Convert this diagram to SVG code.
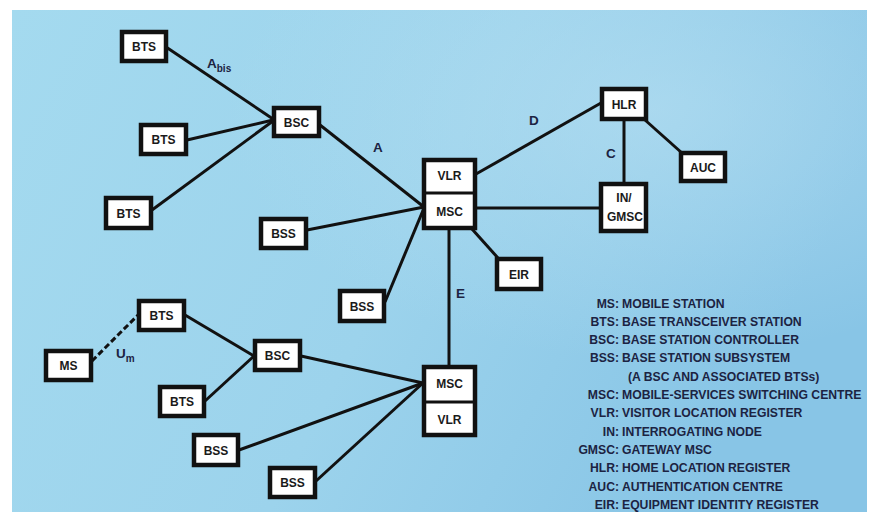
<svg xmlns="http://www.w3.org/2000/svg" width="871" height="512" viewBox="0 0 871 512">
<defs>
<linearGradient id="bg" x1="0" y1="0" x2="1" y2="0.3">
<stop offset="0" stop-color="#a4daef"/>
<stop offset="0.55" stop-color="#9cd3ec"/>
<stop offset="1" stop-color="#88c5e6"/>
</linearGradient>
<radialGradient id="haze" cx="0.75" cy="0.2" r="0.5">
<stop offset="0" stop-color="#b8e0f2" stop-opacity="0.6"/>
<stop offset="1" stop-color="#b8e0f2" stop-opacity="0"/>
</radialGradient>
<style>
.box{fill:#ffffff;stroke:#111111;stroke-width:4.5}
.div{stroke:#111111;stroke-width:3}
.nt{font-family:"Liberation Sans",Arial,sans-serif;font-weight:bold;font-size:12px;fill:#1a1a1a;text-anchor:middle}
.ln{stroke:#111111;stroke-width:3;fill:none}
.dash{stroke-dasharray:6 3}
.lb{font-family:"Liberation Sans",Arial,sans-serif;font-weight:bold;font-size:13.5px;fill:#1c2342}
.sub{font-size:10px}
.lg{font-family:"Liberation Sans",Arial,sans-serif;font-weight:bold;font-size:12.2px;fill:#1c2342}
.pf{text-anchor:end}
</style>
</defs>
<rect x="0" y="0" width="871" height="512" fill="#ffffff"/>
<rect x="12" y="10" width="855" height="502" fill="url(#bg)"/>
<rect x="12" y="10" width="855" height="502" fill="url(#haze)"/>

<g id="connectors">
<line class="ln" x1="166" y1="47" x2="273" y2="119"/>
<line class="ln" x1="187" y1="140" x2="273" y2="120"/>
<line class="ln" x1="152" y1="210" x2="273" y2="121"/>
<line class="ln" x1="320" y1="125" x2="424" y2="207"/>
<line class="ln" x1="307" y1="230" x2="424" y2="207"/>
<line class="ln" x1="385" y1="302" x2="424" y2="208"/>
<line class="ln" x1="476" y1="174" x2="601" y2="103"/>
<line class="ln" x1="476" y1="208" x2="600" y2="208"/>
<line class="ln" x1="624" y1="120" x2="624" y2="183"/>
<line class="ln" x1="645" y1="120" x2="682" y2="153"/>
<line class="ln" x1="449" y1="229" x2="449" y2="366"/>
<line class="ln" x1="472" y1="229" x2="498" y2="258"/>
<line class="ln dash" x1="92" y1="361" x2="138" y2="315"/>
<line class="ln" x1="185" y1="315" x2="254" y2="356"/>
<line class="ln" x1="205" y1="401" x2="254" y2="356"/>
<line class="ln" x1="301" y1="356" x2="423" y2="383"/>
<line class="ln" x1="239" y1="450" x2="423" y2="383"/>
<line class="ln" x1="316" y1="481" x2="423" y2="383"/>
</g>

<g id="labels">
<text class="lb" x="207" y="68">A<tspan class="sub" dy="4">bis</tspan></text>
<text class="lb" x="373" y="152">A</text>
<text class="lb" x="529" y="125">D</text>
<text class="lb" x="606" y="158">C</text>
<text class="lb" x="456" y="298">E</text>
<text class="lb" x="116" y="358">U<tspan class="sub" dy="4">m</tspan></text>
</g>

<g id="bts1"><rect class="box" x="122" y="32" width="44" height="29"/><text class="nt" x="144" y="51">BTS</text></g>
<g id="bts2"><rect class="box" x="141" y="125" width="45" height="29"/><text class="nt" x="163.5" y="144">BTS</text></g>
<g id="bts3"><rect class="box" x="106" y="198" width="45" height="30"/><text class="nt" x="128.5" y="217.5">BTS</text></g>
<g id="bsc1"><rect class="box" x="274" y="108" width="45" height="28"/><text class="nt" x="296.5" y="126.5">BSC</text></g>
<g id="bss1"><rect class="box" x="261" y="219" width="45" height="29"/><text class="nt" x="283.5" y="238">BSS</text></g>
<g id="vlr-msc-upper">
<rect class="box" x="424" y="160" width="51" height="68"/>
<line class="div" x1="424" y1="193" x2="475" y2="193"/>
<text class="nt" x="449.5" y="180">VLR</text>
<text class="nt" x="449.5" y="216">MSC</text>
</g>
<g id="hlr"><rect class="box" x="602" y="89" width="44" height="30"/><text class="nt" x="624" y="108.5">HLR</text></g>
<g id="auc"><rect class="box" x="681" y="153" width="44" height="28"/><text class="nt" x="703" y="171.5">AUC</text></g>
<g id="in-gmsc">
<rect class="box" x="601" y="184" width="45" height="47"/>
<text class="nt" x="624" y="202">IN/</text>
<text class="nt" x="625" y="221">GMSC</text>
</g>
<g id="eir"><rect class="box" x="497" y="259" width="44" height="30"/><text class="nt" x="519" y="278.5">EIR</text></g>
<g id="bss2"><rect class="box" x="340" y="291" width="44" height="30"/><text class="nt" x="362" y="310.5">BSS</text></g>
<g id="bts4"><rect class="box" x="139" y="301" width="45" height="29"/><text class="nt" x="161.5" y="320">BTS</text></g>
<g id="ms"><rect class="box" x="46" y="351" width="45" height="29"/><text class="nt" x="68.5" y="370">MS</text></g>
<g id="bsc2"><rect class="box" x="255" y="341" width="45" height="29"/><text class="nt" x="277.5" y="360">BSC</text></g>
<g id="bts5"><rect class="box" x="160" y="387" width="44" height="29"/><text class="nt" x="182" y="406">BTS</text></g>
<g id="bss3"><rect class="box" x="194" y="435" width="44" height="30"/><text class="nt" x="216" y="454.5">BSS</text></g>
<g id="bss4"><rect class="box" x="270" y="468" width="45" height="29"/><text class="nt" x="292.5" y="487">BSS</text></g>
<g id="msc-vlr-lower">
<rect class="box" x="424" y="367" width="51" height="68"/>
<line class="div" x1="424" y1="402" x2="475" y2="402"/>
<text class="nt" x="449.5" y="388">MSC</text>
<text class="nt" x="449.5" y="424">VLR</text>
</g>

<g id="legend" class="lg">
<text class="pf" x="619" y="307.5">MS:</text><text x="622" y="307.5">MOBILE STATION</text>
<text class="pf" x="619" y="325.8">BTS:</text><text x="622" y="325.8">BASE TRANSCEIVER STATION</text>
<text class="pf" x="619" y="344.1">BSC:</text><text x="622" y="344.1">BASE STATION CONTROLLER</text>
<text class="pf" x="619" y="362.4">BSS:</text><text x="622" y="362.4">BASE STATION SUBSYSTEM</text>
<text x="628" y="380.7">(A BSC AND ASSOCIATED BTSs)</text>
<text class="pf" x="619" y="399">MSC:</text><text x="622" y="399">MOBILE-SERVICES SWITCHING CENTRE</text>
<text class="pf" x="619" y="417.3">VLR:</text><text x="622" y="417.3">VISITOR LOCATION REGISTER</text>
<text class="pf" x="619" y="435.6">IN:</text><text x="622" y="435.6">INTERROGATING NODE</text>
<text class="pf" x="619" y="453.9">GMSC:</text><text x="622" y="453.9">GATEWAY MSC</text>
<text class="pf" x="619" y="472.2">HLR:</text><text x="622" y="472.2">HOME LOCATION REGISTER</text>
<text class="pf" x="619" y="490.5">AUC:</text><text x="622" y="490.5">AUTHENTICATION CENTRE</text>
<text class="pf" x="619" y="508.8">EIR:</text><text x="622" y="508.8">EQUIPMENT IDENTITY REGISTER</text>
</g>
</svg>
